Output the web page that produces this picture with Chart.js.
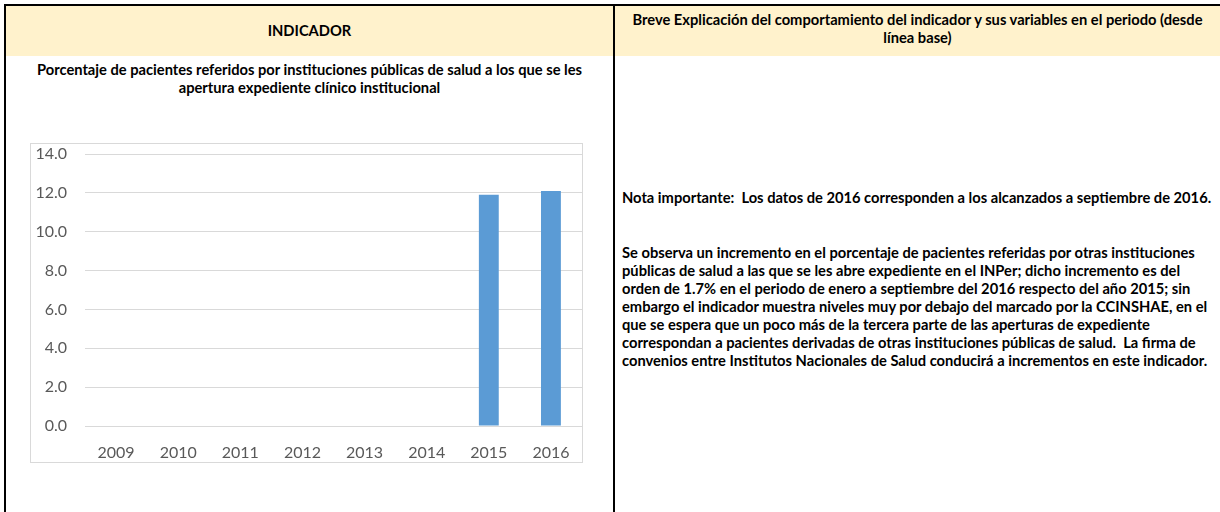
<!DOCTYPE html>
<html>
<head>
<meta charset="utf-8">
<script src="https://cdn.jsdelivr.net/npm/chart.js@4"></script>
<style>
  html, body { margin: 0; padding: 0; background: #fff; }
  body { width: 1220px; height: 512px; position: relative; overflow: hidden; font-family: Lato, "Open Sans", sans-serif; color: #000; }
  .band { position: absolute; left: 6px; top: 6px; width: 1214px; height: 50px; background: #FFF2CC; }
  .line { position: absolute; background: #000; }
  .hdr { position: absolute; font-weight: bold; font-size: 14.7px; text-align: center; line-height: 17.5px; }
  .note { position: absolute; left: 622px; font-weight: bold; font-size: 14.7px; line-height: 18px; white-space: nowrap; }
  #box { position: absolute; left: 30px; top: 143px; width: 551px; height: 318px; border: 1px solid #d9d9d9; }
</style>
</head>
<body>
<div class="band"></div>
<div class="line" style="left:4px;top:4px;width:1216px;height:2px"></div>
<div class="line" style="left:4px;top:4px;width:2px;height:508px"></div>
<div class="line" style="left:613px;top:4px;width:2px;height:508px"></div>

<div class="hdr" style="left:6px;width:607px;top:22px">INDICADOR</div>
<div class="hdr" style="left:6px;width:607px;top:61px">Porcentaje de pacientes referidos por instituciones públicas de salud a los que se les<br>apertura expediente clínico institucional</div>
<div class="hdr" style="left:615px;width:605px;top:11px">Breve Explicación del comportamiento del indicador y sus variables en el periodo (desde<br>línea base)</div>

<div class="note" style="top:188px">Nota importante:&nbsp; Los datos de 2016 corresponden a los alcanzados a septiembre de 2016.</div>
<div class="note" style="top:243px">Se observa un incremento en el porcentaje de pacientes referidas por otras instituciones<br>públicas de salud a las que se les abre expediente en el INPer; dicho incremento es del<br>orden de 1.7% en el periodo de enero a septiembre del 2016 respecto del año 2015; sin<br>embargo el indicador muestra niveles muy por debajo del marcado por la CCINSHAE, en el<br>que se espera que un poco más de la tercera parte de las aperturas de expediente<br>correspondan a pacientes derivadas de otras instituciones públicas de salud.&nbsp; La firma de<br>convenios entre Institutos Nacionales de Salud conducirá a incrementos en este indicador.</div>

<div id="box"><canvas id="chart" width="551" height="318"></canvas></div>

<script>
const years = ['2009', '2010', '2011', '2012', '2013', '2014', '2015', '2016'];
const porcentaje = [null, null, null, null, null, null, 11.9, 12.1];
const yMin = 0;
const yMax = 14;
const yStep = 2;

const tickFont = { family: 'Lato', size: 16 };

new Chart(document.getElementById('chart').getContext('2d'), {
    type: 'bar',
    data: {
        labels: years,
        datasets: [{
            data: porcentaje,
            backgroundColor: '#5B9BD5',
            barPercentage: 0.32,
            categoryPercentage: 1,
        }],
    },
    options: {
        responsive: false,
        animation: false,
        layout: { padding: { top: 10, right: 0, left: 0, bottom: 0 } },
        plugins: { legend: { display: false }, tooltip: { enabled: false } },
        scales: {
            x: {
                grid: { display: false, drawTicks: false },
                border: { display: false },
                ticks: { color: '#595959', font: tickFont, padding: 17, maxRotation: 0 },
                afterFit: (s) => { s.height = 36; s.paddingLeft = 0; s.paddingRight = 0; },
            },
            y: {
                min: yMin,
                max: yMax,
                grid: { color: '#d9d9d9', drawTicks: false },
                border: { display: false },
                ticks: {
                    stepSize: yStep,
                    color: '#595959',
                    font: tickFont,
                    padding: 18,
                    callback: (v) => v.toFixed(1),
                },
                // keep the label gap from pushing the plot down
                afterFit: (s) => { s.width = 54; s.paddingTop = 0; s.paddingBottom = 0; },
            },
        },
    },
});
</script>
</body>
</html>
